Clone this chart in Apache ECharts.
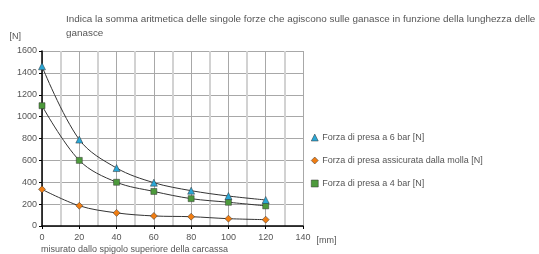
<!DOCTYPE html>
<html>
<head>
<meta charset="utf-8">
<script src="https://cdn.jsdelivr.net/npm/echarts@6/dist/echarts.min.js"></script>
<style>
  html, body { margin: 0; padding: 0; background: #fff; }
  #main { width: 539px; height: 254px; }
</style>
</head>
<body>
<div id="main"></div>
<script>
// distance from the top edge of the housing [mm]
var distances = [0, 20, 40, 60, 80, 100, 120];
// grip forces [N]
var force6bar = [1460, 790, 530, 396, 323, 274, 238];
var forceSpring = [335, 185, 120, 92, 85, 67, 58];
var force4bar = [1100, 600, 400, 316, 250, 217, 184];

var seriesNames = [
    'Forza di presa a 6 bar [N]',
    'Forza di presa assicurata dalla molla [N]',
    'Forza di presa a 4 bar [N]'
];

function pairs(values) {
    return distances.map(function (d, i) { return [d, values[i]]; });
}

var font = 'Liberation Sans, Arial, sans-serif';
var textGray = '#555';

var myChart = echarts.init(document.getElementById('main'));
var option = {
    animation: false,
    textStyle: { fontFamily: font },
    title: {
        text: 'Indica la somma aritmetica delle singole forze che agiscono sulle ganasce in funzione della lunghezza delle\nganasce',
        left: 61,
        top: 7,
        textStyle: { fontSize: 9.9, fontWeight: 'normal', color: textGray, lineHeight: 14, fontFamily: font }
    },
    legend: {
        orient: 'vertical',
        left: 306,
        top: 128,
        itemWidth: 7,
        itemHeight: 7,
        itemGap: 14,
        itemStyle: { borderWidth: 0.5 },
        textStyle: { fontSize: 9, color: textGray, fontFamily: font, padding: [0, 0, 0, -1] },
        data: [
            { name: seriesNames[0], icon: 'triangle' },
            { name: seriesNames[1], icon: 'diamond' },
            { name: seriesNames[2], icon: 'rect' }
        ]
    },
    graphic: [{
        type: 'text',
        left: 41,
        top: 245,
        style: { text: 'misurato dallo spigolo superiore della carcassa', fontSize: 9, fill: textGray, fontFamily: font }
    }],
    grid: { left: 42, right: 236, top: 51, bottom: 28 },
    xAxis: {
        type: 'value',
        min: 0,
        max: 140,
        interval: 20,
        name: '[mm]',
        nameLocation: 'end',
        nameGap: 9,
        nameTextStyle: { fontSize: 9, color: textGray, padding: [10, 0, 0, 0], verticalAlign: 'top' },
        axisLine: { lineStyle: { color: '#000', width: 1.5 } },
        axisTick: { show: true, length: 3, lineStyle: { color: '#000' } },
        axisLabel: { fontSize: 9, color: textGray, margin: 7 },
        splitLine: { show: true, lineStyle: { color: '#a8a8a8', width: 1 } },
        minorTick: { show: false, splitNumber: 2 },
        minorSplitLine: { show: true, lineStyle: { color: '#d2d2d2', width: 2 } }
    },
    yAxis: {
        type: 'value',
        min: 0,
        max: 1600,
        interval: 200,
        name: '[N]',
        nameLocation: 'end',
        nameGap: 10,
        nameTextStyle: { fontSize: 9, color: textGray, align: 'right', padding: [0, 21, 0, 0] },
        axisLine: { show: true, lineStyle: { color: '#000', width: 1.5 } },
        axisTick: { show: true, length: 3, lineStyle: { color: '#000' } },
        axisLabel: { fontSize: 9, color: textGray, margin: 5, formatter: function (v) { return String(v); } },
        splitLine: { show: true, lineStyle: { color: '#a8a8a8', width: 1 } }
    },
    series: [
        {
            name: seriesNames[0],
            type: 'line',
            smooth: 0.35,
            data: pairs(force6bar),
            symbol: 'triangle',
            symbolSize: 7,
            itemStyle: { color: '#2aa7d6', borderColor: '#333', borderWidth: 0.5 },
            lineStyle: { color: '#333', width: 1 },
            z: 4
        },
        {
            name: seriesNames[1],
            type: 'line',
            smooth: 0.35,
            data: pairs(forceSpring),
            symbol: 'diamond',
            symbolSize: 7,
            itemStyle: { color: '#f07d12', borderColor: '#333', borderWidth: 0.5 },
            lineStyle: { color: '#333', width: 1 },
            z: 3
        },
        {
            name: seriesNames[2],
            type: 'line',
            smooth: 0.35,
            data: pairs(force4bar),
            symbol: 'rect',
            symbolSize: 6,
            itemStyle: { color: '#4d9a3c', borderColor: '#333', borderWidth: 0.5 },
            lineStyle: { color: '#333', width: 1 },
            z: 3
        }
    ]
};
myChart.setOption(option);
</script>
</body>
</html>
